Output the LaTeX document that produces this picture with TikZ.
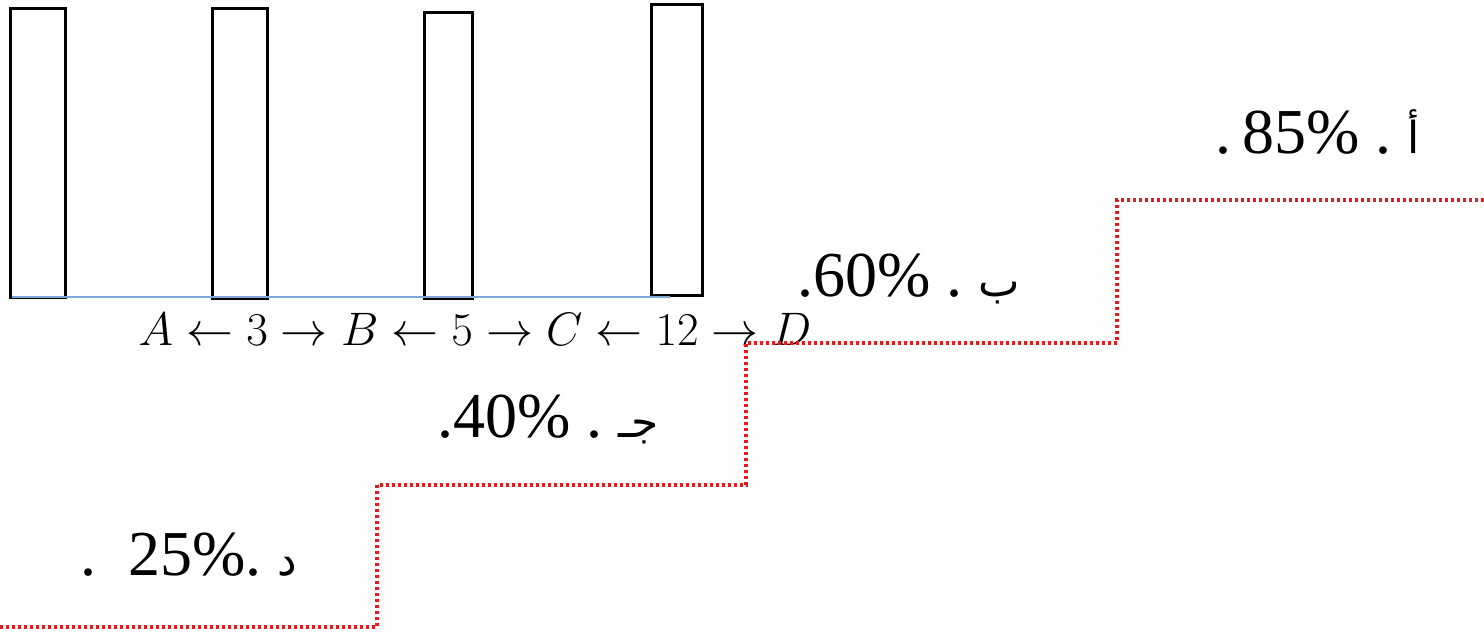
\RequirePackage{fix-cm}
\documentclass[tikz,border=0pt]{standalone}
\usepackage{amsmath, amssymb}
\usepackage{fontspec}
\usepackage{tikz}
\usetikzlibrary{calc}
\TeXXeTstate=1
\newfontfamily\numfont{Liberation Serif}
\newfontfamily\arabicfont[Script=Arabic]{DejaVu Sans}
\definecolor{stairred}{HTML}{E31B1B}
\definecolor{baseblue}{HTML}{7FA7D6}

\tikzset{
    bar/.style={draw=black, line width=1.5pt},
    stair/.style={stairred, line width=1.6pt, dash pattern=on 1.4pt off 1.6pt},
    choice/.style={anchor=base west, inner sep=0pt, text depth=0pt, font=\numfont\fontsize{32}{36}\selectfont}
}

\begin{document}
\begin{tikzpicture}[x=0.5pt, y=-0.5pt]
    \useasboundingbox (0,0) rectangle (1484,634);
    % the four bars
    \draw[bar] (10,8) rectangle (65,297);
    \draw[bar] (212,8) rectangle (267,298);
    \draw[bar] (424,12) rectangle (472,298);
    \draw[bar] (651,4) rectangle (702,295);
    \draw[baseblue, line width=0.8pt] (12,297) -- (670,297);
    % distances
    \node[anchor=base, inner sep=0pt, font=\fontsize{23.5}{28}\selectfont] (dist) at (475,345)
        {$A \leftarrow 3 \rightarrow B \leftarrow 5 \rightarrow C \leftarrow 12 \rightarrow D$};
    % stairs
    \draw[stair] (0,627) -- (377,627) -- (377,485) -- (746,485) -- (746,343)
        -- (1117,343) -- (1117,200) -- (1484,200);
    % answers
    \node[choice] (ansA) at (1215,153) {.\,85\% .\ {\arabicfont\fontsize{22}{26}\selectfont أ}};
    \node[choice] (ansB) at (797,296) {.60\% .\ {\arabicfont\fontsize{22}{26}\selectfont ب}};
    \node[choice] (ansC) at (437,437) {.40\% .\ {\arabicfont\fontsize{22}{26}\selectfont\beginR جـ\endR}};
    \node[choice] (ansD) at (80,575) {.\ \ 25\%.\ {\arabicfont\fontsize{22}{26}\selectfont د}};
\end{tikzpicture}
\end{document}
